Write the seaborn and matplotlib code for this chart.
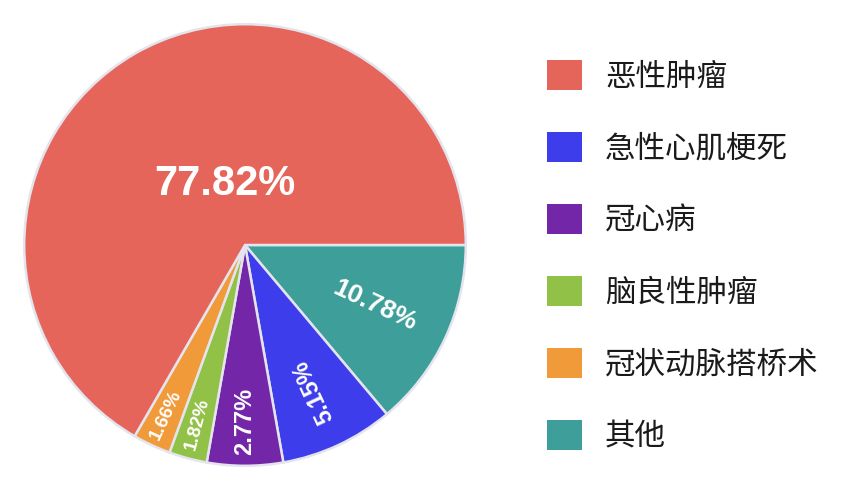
import matplotlib
matplotlib.use("Agg")
import matplotlib.pyplot as plt
import seaborn as sns
import numpy as np
from matplotlib.patches import Patch

# legend order
categories = ["恶性肿瘤", "急性心肌梗死", "冠心病", "脑良性肿瘤", "冠状动脉搭桥术", "其他"]
label_pct = ["77.82%", "5.15%", "2.77%", "1.82%", "1.66%", "10.78%"]
# slice sizes as drawn in the picture (degrees of the circle)
drawn_share = [240, 30, 20, 10, 10, 50]
colors = ["#e6655a", "#3d3deb", "#7426a8", "#92c148", "#f09a3a", "#3e9e99"]

# order the slices go round clockwise from 3 o'clock
pie_order = [5, 1, 2, 3, 4, 0]

sns.set_theme(style="white")
plt.rcParams["font.family"] = ["Noto Sans CJK SC", "DejaVu Sans"]

W, H = 841, 492
fig = plt.figure(figsize=(W / 100, H / 100), dpi=100)
cx, cy, R = 245, 245, 223
ax = fig.add_axes([(cx - R) / W, (H - cy - R) / H, 2 * R / W, 2 * R / H])

wedges, _ = ax.pie(
    [drawn_share[i] for i in pie_order],
    colors=[colors[i] for i in pie_order],
    startangle=0,
    counterclock=False,
    radius=1,
    wedgeprops=dict(edgecolor="#e4e4ee", linewidth=1.8),
)
ax.set_xlim(-1.01, 1.01)
ax.set_ylim(-1.01, 1.01)
ax.set_aspect("equal")
ax.axis("off")

# label radius (fraction of R) and font size for each category
label_r = [0.29, 0.73, 0.80, 0.84, 0.85, 0.65]
label_fs = [30, 17, 17, 13.5, 13.5, 19]

for w, idx in zip(wedges, pie_order):
    mid = ((w.theta1 + w.theta2) / 2 + 180) % 360 - 180
    if idx == 0:
        ang, rot = 108, 0
    else:
        ang = mid
        rot = mid + 180 if mid < -45 else mid
    r = label_r[idx]
    x = r * np.cos(np.radians(ang))
    y = r * np.sin(np.radians(ang))
    ax.text(x, y, label_pct[idx], color="white", fontsize=label_fs[idx],
            fontweight="bold", family=["Liberation Sans", "DejaVu Sans"],
            ha="center", va="center", rotation=rot, rotation_mode="anchor")

handles = [Patch(facecolor=c, edgecolor="none") for c in colors]
fig.legend(
    handles, categories,
    loc="upper left", bbox_to_anchor=(547 / W, 1 - 60 / H),
    frameon=False, fontsize=22, handlelength=1.15, handleheight=1.15,
    handletextpad=0.75, labelspacing=1.29, borderpad=0, borderaxespad=0,
    labelcolor="#1a1a1a",
)

fig.savefig("out.png", dpi=100, facecolor="white")
